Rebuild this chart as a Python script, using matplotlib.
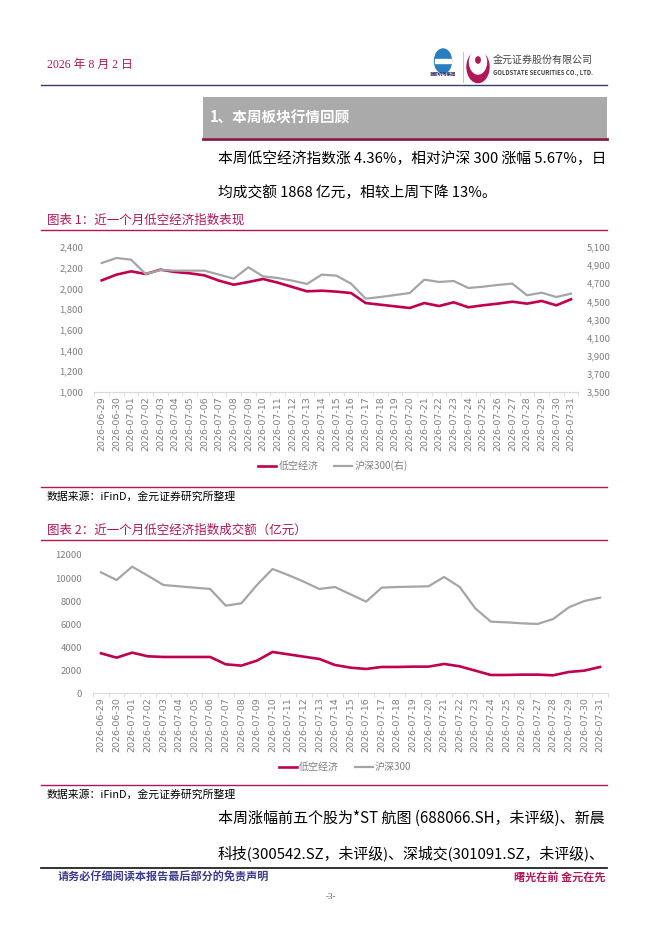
import matplotlib
matplotlib.use("Agg")
import matplotlib.pyplot as plt
from matplotlib.patches import Rectangle, Circle
from matplotlib.lines import Line2D

plt.rcParams['font.family'] = ['Noto Sans CJK SC', 'DejaVu Sans']

# ---------------- data ----------------
dates = ["2026-06-29", "2026-06-30", "2026-07-01", "2026-07-02", "2026-07-03", "2026-07-04",
         "2026-07-05", "2026-07-06", "2026-07-07", "2026-07-08", "2026-07-09", "2026-07-10",
         "2026-07-11", "2026-07-12", "2026-07-13", "2026-07-14", "2026-07-15", "2026-07-16",
         "2026-07-17", "2026-07-18", "2026-07-19", "2026-07-20", "2026-07-21", "2026-07-22",
         "2026-07-23", "2026-07-24", "2026-07-25", "2026-07-26", "2026-07-27", "2026-07-28",
         "2026-07-29", "2026-07-30", "2026-07-31"]

low_alt_index = [2078, 2133, 2165, 2139, 2181, 2159, 2146, 2126, 2075, 2036, 2062, 2091,
                 2056, 2014, 1972, 1978, 1969, 1956, 1859, 1843, 1827, 1811, 1859, 1830,
                 1866, 1818, 1837, 1853, 1872, 1853, 1879, 1837, 1895]

hs300_index = [4923, 4979, 4960, 4802, 4846, 4839, 4839, 4839, 4795, 4751, 4876, 4776,
               4758, 4729, 4692, 4795, 4784, 4696, 4530, 4548, 4570, 4592, 4740, 4714,
               4725, 4648, 4662, 4681, 4696, 4567, 4596, 4548, 4585]

low_alt_turnover = [3470, 3094, 3528, 3210, 3152, 3152, 3152, 3152, 2516, 2400, 2834, 3586,
                    3383, 3181, 2978, 2458, 2226, 2111, 2284, 2284, 2313, 2313, 2545, 2342,
                    1966, 1590, 1590, 1619, 1619, 1561, 1851, 1966, 2284]

hs300_turnover = [10496, 9831, 10988, 10207, 9398, 9282, 9166, 9051, 7605, 7807, 9398, 10786,
                  10265, 9687, 9051, 9224, 8588, 7952, 9166, 9224, 9253, 9282, 10092, 9224,
                  7373, 6217, 6159, 6072, 6014, 6448, 7460, 8010, 8299]

left_ticks_1 = [1000, 1200, 1400, 1600, 1800, 2000, 2200, 2400]
right_ticks_1 = [3500, 3700, 3900, 4100, 4300, 4500, 4700, 4900, 5100]
ticks_2 = [0, 2000, 4000, 6000, 8000, 10000, 12000]

series_names_1 = ["低空经济", "沪深300(右)"]
series_names_2 = ["低空经济", "沪深300"]

# ---------------- styles ----------------
W, H = 662, 936
RED = "#C0004F"
GRAY = "#A5A5A5"
CRIMSON = "#B2165A"
NAVY = "#3A3A72"
TICKC = "#7F7F7F"

fig = plt.figure(figsize=(W / 100, H / 100), dpi=100)
renderer = fig.canvas.get_renderer()


def fx(x):
    return x / W


def fy(y):
    return 1 - y / H


def text(x, y, s, **kw):
    return fig.text(fx(x), fy(y), s, **kw)


def fit_text(x0, x1, y, s, size=10, **kw):
    t = text(x0, y, s, fontsize=size, va='center', **kw)
    w = t.get_window_extent(renderer=renderer).width
    t.set_fontsize(size * (x1 - x0) / w)
    return t


def hline(x0, x1, y, color, lw):
    fig.add_artist(Line2D([fx(x0), fx(x1)], [fy(y), fy(y)], color=color, lw=lw,
                          transform=fig.transFigure))


# header
text(47, 65, "2026 年 8 月 2 日", color=CRIMSON, fontsize=8.5, va='center',
     family=['Liberation Serif', 'Noto Sans CJK SC'])
hline(41, 607, 84.5, NAVY, 1.0)

# logos
fig.add_artist(Circle((fx(443), fy(61)), 8.5 / W, transform=fig.transFigure,
                      color="#2A7DBF"))
fig.add_artist(Rectangle((fx(435), fy(63)), 16 / W, 4 / H, transform=fig.transFigure,
                         color="white"))
text(443, 75, "首都机场集团", fontsize=3.2, ha='center', va='center', color="#333366",
     weight='bold')
fig.add_artist(Line2D([fx(463), fx(463)], [fy(52), fy(82)], color="#BBBBBB", lw=0.6,
                      transform=fig.transFigure))
fig.add_artist(Circle((fx(478), fy(67)), 11 / W, transform=fig.transFigure, color=CRIMSON))
fig.add_artist(Circle((fx(478), fy(62)), 8.5 / W, transform=fig.transFigure, color="white"))
fig.add_artist(Circle((fx(478), fy(60)), 2.2 / W, transform=fig.transFigure, color=CRIMSON))
text(493, 61, "金元证券股份有限公司", fontsize=7.2, va='center', color="#444444")
text(493, 72.5, "GOLDSTATE SECURITIES CO., LTD.", fontsize=4.3, va='center', color="#444444",
     weight='bold')

# section box
fig.add_artist(Rectangle((fx(203), fy(138)), (607 - 203) / W, (138 - 97) / H,
                         transform=fig.transFigure, color="#AAAAAA", lw=0))
hline(203, 607, 139, "#8B1A46", 2.0)
text(210, 117, "1、本周板块行情回顾", color="white", fontsize=10.5, weight='bold', va='center')

# paragraph 1
p1 = fit_text(218, 605, 159, "本周低空经济指数涨 4.36%，相对沪深 300 涨幅 5.67%，日")
text(218, 193, "均成交额 1868 亿元，相较上周下降 13%。", fontsize=p1.get_fontsize(), va='center')

# chart 1 title
text(47, 220, "图表 1：近一个月低空经济指数表现", color=CRIMSON, fontsize=9, va='center')
hline(41, 607, 229.5, CRIMSON, 1.0)

x = list(range(len(dates)))

# ---------------- chart 1 ----------------
ax1 = fig.add_axes([fx(94.4), fy(392), (578.3 - 94.4) / W, (392 - 247) / H])
l1, = ax1.plot(x, low_alt_index, color=RED, lw=1.9, solid_joinstyle='round')
ax1.set_ylim(1000, 2400)
ax1.set_xlim(-0.5, len(dates) - 0.5)
ax1.set_yticks(left_ticks_1)
ax1.set_yticklabels([f"{v:,}" for v in left_ticks_1])
ax1r = ax1.twinx()
l2, = ax1r.plot(x, hs300_index, color=GRAY, lw=1.6, solid_joinstyle='round')
ax1r.set_ylim(3500, 5100)
ax1r.set_yticks(right_ticks_1)
ax1r.set_yticklabels([f"{v:,}" for v in right_ticks_1])

# ---------------- chart 2 ----------------
ax2 = fig.add_axes([fx(93.2), fy(693.3), (607.8 - 93.2) / W, (693.3 - 555) / H])
m1, = ax2.plot(x, low_alt_turnover, color=RED, lw=1.9, solid_joinstyle='round')
m2, = ax2.plot(x, hs300_turnover, color=GRAY, lw=1.6, solid_joinstyle='round')
ax2.set_ylim(0, 12000)
ax2.set_xlim(-0.5, len(dates) - 0.5)
ax2.set_yticks(ticks_2)
ax2.set_yticklabels([str(v) for v in ticks_2])

for ax in (ax1, ax1r, ax2):
    for s in ('top', 'left', 'right'):
        ax.spines[s].set_visible(False)
    ax.spines['bottom'].set_color("#D9D9D9")
    ax.spines['bottom'].set_linewidth(0.8)
    ax.patch.set_visible(False)
    ax.tick_params(axis='y', length=0, labelsize=6.8, labelcolor=TICKC, pad=8)

for ax in (ax1, ax2):
    ax.set_xticks([i - 0.5 for i in range(len(dates) + 1)], minor=True)
    ax.set_xticks(x)
    ax.set_xticklabels(dates, rotation=90, fontsize=6.8, color=TICKC,
                       family=['DejaVu Sans'])
    ax.tick_params(axis='x', which='major', length=0, pad=3)
    ax.tick_params(axis='x', which='minor', length=3, color="#D9D9D9", width=0.6)
ax1r.tick_params(axis='y', pad=6)

fig.legend([l1, l2], series_names_1, loc='center', ncol=2, frameon=False,
           bbox_to_anchor=(fx(333), fy(466)), bbox_transform=fig.transFigure,
           fontsize=7.2, handlelength=1.8, columnspacing=1.6, handletextpad=0.2,
           labelcolor=TICKC)
fig.legend([m1, m2], series_names_2, loc='center', ncol=2, frameon=False,
           bbox_to_anchor=(fx(345), fy(767)), bbox_transform=fig.transFigure,
           fontsize=7.2, handlelength=1.8, columnspacing=1.6, handletextpad=0.2,
           labelcolor=TICKC)

# sources
hline(41, 607, 487, CRIMSON, 1.0)
text(47, 497, "数据来源：iFinD，金元证券研究所整理", fontsize=7.8, va='center')

text(47, 530, "图表 2：近一个月低空经济指数成交额（亿元）", color=CRIMSON, fontsize=9, va='center')
hline(41, 607, 540, CRIMSON, 1.0)

hline(41, 607, 785, CRIMSON, 1.0)
text(47, 795, "数据来源：iFinD，金元证券研究所整理", fontsize=7.8, va='center')

# paragraph 2
fit_text(218, 605, 818, "本周涨幅前五个股为*ST 航图 (688066.SH，未评级)、新晨")
fit_text(218, 605, 854, "科技(300542.SZ，未评级)、深城交(301091.SZ，未评级)、")

# footer
hline(41, 607, 868, "#222222", 1.3)
text(58, 877, "请务必仔细阅读本报告最后部分的免责声明", color="#3B3B8F", fontsize=8,
     weight='bold', va='center')
text(606, 877, "曙光在前 金元在先", color=CRIMSON, fontsize=8, weight='bold', va='center',
     ha='right')
text(331, 897, "-3-", fontsize=6.5, va='center', ha='center', color="#555555",
     family=['Liberation Serif'])

fig.savefig("out.png", dpi=100)
